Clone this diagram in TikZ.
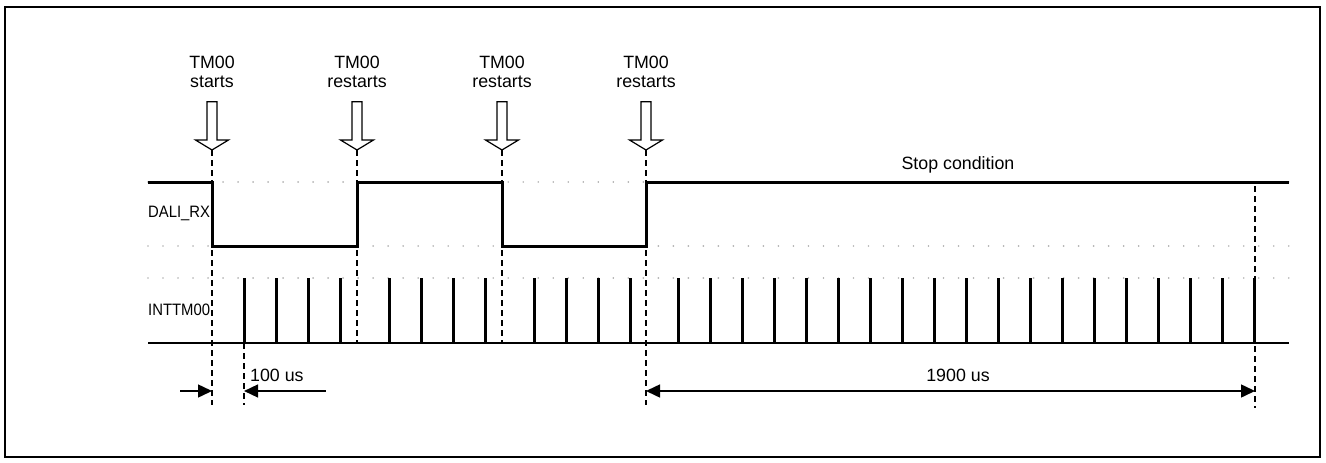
\documentclass[tikz,border=0pt]{standalone}
\usepackage{fontspec}
\setmainfont{Liberation Sans}
\newfontfamily\narrowsans[FakeStretch=0.9]{Liberation Sans}
\usetikzlibrary{arrows.meta}
\begin{document}
\begin{tikzpicture}[x=1pt,y=-1pt,
 sig/.style={line width=3pt},
 pulse/.style={line width=3pt},
 baseline/.style={line width=1.8pt},
 guide/.style={draw=gray!60, line width=1.8pt, dash pattern=on 0.01pt off 15pt, line cap=round},
 vdash/.style={line width=1.5pt, dash pattern=on 6pt off 4pt},
 dim/.style={line width=1.5pt},
 tipr/.style={-{Triangle[length=14pt,width=13pt]}},
 tipb/.style={{Triangle[length=14pt,width=13pt]}-{Triangle[length=14pt,width=13pt]}},
 blockarrow/.style={draw, fill=white, line width=1.2pt, line join=miter},
 lbl/.style={font=\fontsize{17.8}{18.5}\selectfont, inner sep=0pt, align=center},
 siglbl/.style={font=\narrowsans\fontsize{16.5}{18.5}\selectfont, inner sep=0pt, anchor=west}]
\useasboundingbox (0,0) rectangle (1326,463);
\draw[line width=2.2pt] (5,7) rectangle (1320,457);

% guide dotted lines
\draw[guide] (148,182) -- (1290,182);
\draw[guide] (148,246) -- (1290,246);
\draw[guide] (148,278) -- (1290,278);

% edge coordinates
\coordinate (e1) at (212,182);
\coordinate (e2) at (357,182);
\coordinate (e3) at (502,182);
\coordinate (e4) at (646,182);

% vertical dashed lines
\draw[vdash] (212,150) -- (212,405);
\draw[vdash] (357,150) -- (357,343);
\draw[vdash] (502,150) -- (502,343);
\draw[vdash] (646,150) -- (646,405);
\draw[vdash] (244.05,343) -- (244.05,405);
\draw[vdash] (1255,186) -- (1255,408);

% DALI_RX signal
\draw[sig, line join=miter] (148,182) -- (212,182) -- (212,246) -- (357,246) -- (357,182)
  -- (502,182) -- (502,246) -- (646,246) -- (646,182) -- (1289,182);

% INTTM00 baseline and pulses
\draw[baseline] (148,343) -- (1289,343);
\foreach \s/\n in {212/4,357/4,502/4,646/19}{
  \foreach \k in {1,...,\n}{
    \draw[pulse] ({\s+\k*32.05},278) -- ({\s+\k*32.05},343);
  }
}

% block arrows
\foreach \x in {212,357,502,646}{
  \draw[blockarrow] (\x-5,101.7) -- (\x+5,101.7) -- (\x+5,140) -- (\x+16.5,140)
    -- (\x,150) -- (\x-16.5,140) -- (\x-5,140) -- cycle;
}

% top labels
\node[lbl] (t1) at (212,72) {TM00\\starts};
\node[lbl] (t2) at (357,72) {TM00\\restarts};
\node[lbl] (t3) at (502,72) {TM00\\restarts};
\node[lbl] (t4) at (646,72) {TM00\\restarts};

% signal labels
\node[siglbl] (dali) at (148,213) {DALI\_RX};
\node[siglbl] (intt) at (148,310) {INTTM00};
\node[lbl] (stop) at (958,165) {Stop condition};

% dimension arrows
\coordinate (a1) at (180,391);
\coordinate (a2) at (212,391);
\coordinate (a3) at (325.7,391);
\coordinate (a4) at (244.05,391);
\coordinate (a5) at (646,391);
\coordinate (a6) at (1255,391);
\draw[dim,tipr] (a1) -- (a2);
\draw[dim,tipr] (a3) -- (a4);
\draw[dim,tipb] (a5) -- (a6);
\node[lbl, anchor=west] (l100) at (250,375) {100 us};
\node[lbl] (l1900) at (958,375) {1900 us};
\end{tikzpicture}
\end{document}
